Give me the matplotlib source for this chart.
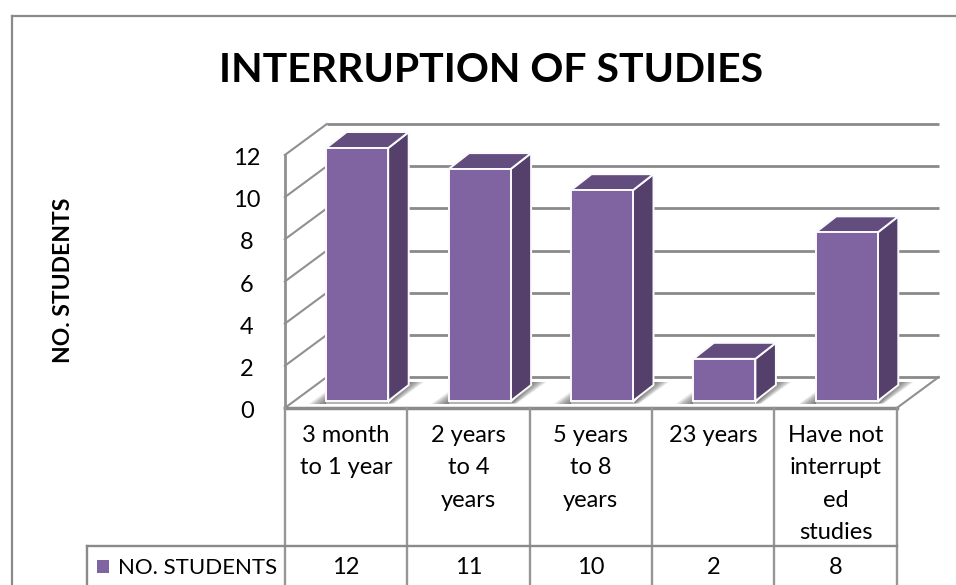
import numpy as np
import matplotlib
matplotlib.use("Agg")
import matplotlib.pyplot as plt
from matplotlib.patches import Polygon

plt.rcParams['font.family'] = ['Lato', 'DejaVu Sans']

# Chart content
title = "INTERRUPTION OF STUDIES"
series_name = "NO. STUDENTS"
categories = ["3 month\nto 1 year", "2 years\nto 4\nyears", "5 years\nto 8\nyears", "23 years",
              "Have not\ninterrupt\ned\nstudies"]
values = [12, 11, 10, 2, 8]
y_ticks = [0, 2, 4, 6, 8, 10, 12]

W, H = 956, 585
PX_X = 122.4     # pixels per category
PX_Y = 21.08     # pixels per unit of value
X0, Y0 = 284.8, 408.0

GRID = "#8a8a8a"
FACE = "#8064a2"
SIDE = "#54406a"
TOP = "#624d7e"

fig = plt.figure(figsize=(W / 100, H / 100), dpi=100, facecolor="white")
ax = fig.add_axes([0, 0, 1, 1])
ax.set_xlim(-X0 / PX_X, (W - X0) / PX_X)
ax.set_ylim(-(H - Y0) / PX_Y, Y0 / PX_Y)
ax.axis("off")


def dx(px):
    return px / PX_X


def dy(px):
    return px / PX_Y


def at_x(px):
    return (px - X0) / PX_X


def at_y(px):
    return (Y0 - px) / PX_Y


n = len(values)
ymax = max(y_ticks)
wall_x, wall_y = dx(42), dy(31)   # depth of the 3-D box

# Outer frame of the chart area
ax.plot([at_x(11.5)] * 2, [at_y(H), at_y(16)], color=GRID, lw=1.6)
ax.plot([at_x(11.5), at_x(W)], [at_y(16)] * 2, color=GRID, lw=1.6)

# Gridlines: back wall, side wall and floor
for t in y_ticks:
    ax.plot([wall_x, n + wall_x], [t + wall_y] * 2, color=GRID, lw=2.0, zorder=1,
            solid_capstyle="butt")
    ax.plot([0, wall_x], [t, t + wall_y], color="#909090", lw=1.5, zorder=1)
ax.plot([0, 0], [0, ymax], color="#909090", lw=2, zorder=1)
ax.plot([n, n + wall_x], [0, wall_y], color="#909090", lw=1.5, zorder=1)
ax.plot([0, n], [0, 0], color=GRID, lw=2.5, zorder=1)

# Bar geometry on the floor
bar_w = dx(62)
off_x, off_y = dx(11.2), dy(7)
depth_x, depth_y = dx(20.5), dy(16)

# Soft shadows cast on the floor by each bar, built from stacked translucent layers
for i, v in enumerate(values):
    left = i + 0.5 - bar_w / 2 + off_x
    right = left + bar_w
    b = off_y
    shade = dict(fc="#404040", ec="none", alpha=0.14, zorder=2)
    for s in [1.0, 0.85, 0.7, 0.55, 0.4, 0.25, 0.12]:
        ax.add_patch(Polygon([(left - dx(17 * s), b - dy(2.5)), (left + dx(2), b - dy(2.5)),
                              (left + dx(2), b + dy(11 * s))], **shade))
        ax.add_patch(Polygon([(right, b - dy(2.5)),
                              (right + dx(6 * s), b - dy(2.5)),
                              (right + depth_x + dx(15 * s), b + dy(19)),
                              (right + depth_x, b + dy(19))], **shade))
    ax.add_patch(Polygon([(left, b - dy(2.5)), (right, b - dy(2.5)), (right, b), (left, b)],
                         fc="#b4b4b4", ec="none", zorder=2))

# Bars with their front, side and top faces
for i, v in enumerate(values):
    left = i + 0.5 - bar_w / 2 + off_x
    right = left + bar_w
    bottom = off_y
    top = bottom + v
    edge = dict(ec="#fbfafc", lw=1.4, joinstyle="miter", zorder=3)
    ax.add_patch(Polygon([(right, bottom), (right + depth_x, bottom + depth_y),
                          (right + depth_x, top + depth_y), (right, top)], fc=SIDE, **edge))
    ax.add_patch(Polygon([(left, top), (right, top),
                          (right + depth_x, top + depth_y), (left + depth_x, top + depth_y)], fc=TOP, **edge))
    ax.add_patch(Polygon([(left, bottom), (right, bottom), (right, top), (left, top)], fc=FACE, **edge))

# Value axis tick labels and title
for t in y_ticks:
    ax.text(at_x(247), t - dy(1.5), str(t), ha="center", va="center_baseline", fontsize=17, color="black")
ax.text(at_x(491), at_y(67), title, ha="center", va="center_baseline", fontsize=29.5,
        fontweight="bold", color="black")
ax.text(at_x(63), at_y(280), series_name, ha="center", va="center", rotation=90,
        fontsize=16.5, fontweight="bold", color="black")

# Data table below the plot
row_y = at_y(545.5)
bottom_y = at_y(H)
for i in range(n + 1):
    ax.plot([i, i], [0, bottom_y], color="#969696", lw=1.7, zorder=1)
ax.plot([at_x(86.5), n], [row_y, row_y], color=GRID, lw=1.7)
ax.plot([at_x(86.5)] * 2, [row_y, bottom_y], color=GRID, lw=1.7)
for i, (c, v) in enumerate(zip(categories, values)):
    for k, line in enumerate(c.split("\n")):
        ax.text(i + 0.5, at_y(433 + 32.6 * k), line, ha="center", va="center_baseline",
                fontsize=17, color="black")
    ax.text(i + 0.5, at_y(566), str(v), ha="center", va="center_baseline", fontsize=17, color="black")
ax.add_patch(Polygon([(at_x(96.7), at_y(560)), (at_x(109.2), at_y(560)),
                      (at_x(109.2), at_y(572.5)), (at_x(96.7), at_y(572.5))], fc=FACE, ec="none"))
ax.text(at_x(118), at_y(566), series_name, ha="left", va="center_baseline", fontsize=16, color="black")

fig.savefig("out.png", dpi=100, facecolor="white")
